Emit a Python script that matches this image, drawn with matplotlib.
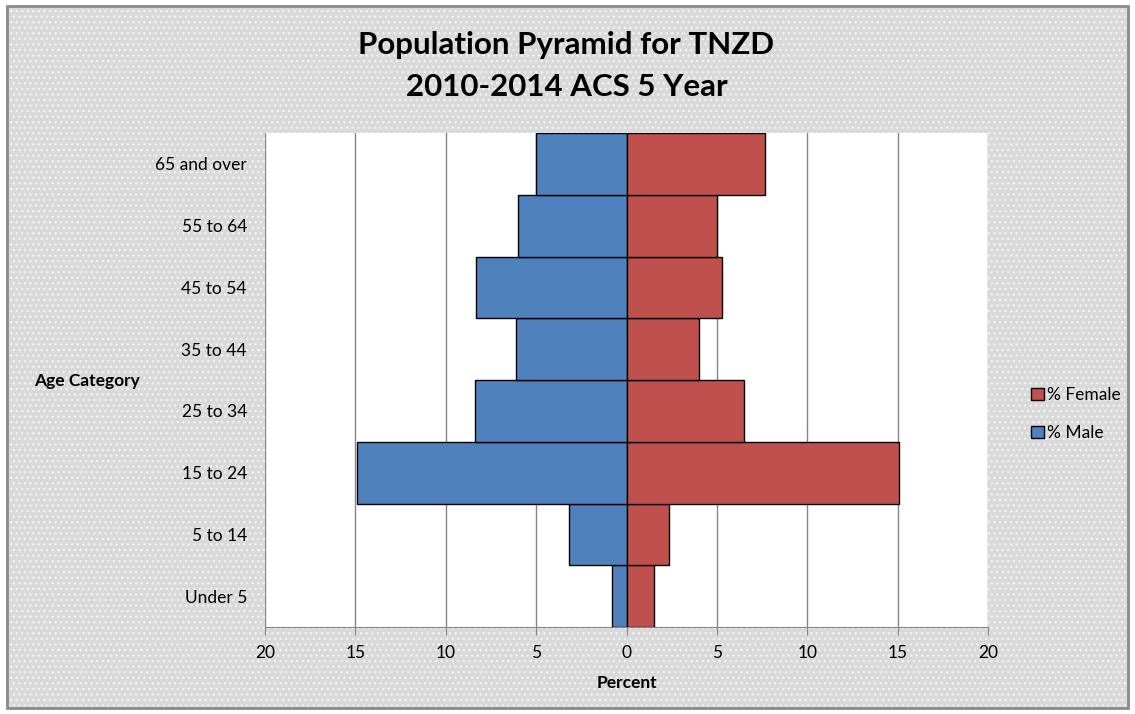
import numpy as np
import matplotlib.pyplot as plt
from matplotlib.patches import Rectangle

plt.rcParams['font.family'] = ['Lato', 'DejaVu Sans']

ages = ['Under 5', '5 to 14', '15 to 24', '25 to 34', '35 to 44', '45 to 54', '55 to 64', '65 and over']
male = [0.8, 3.2, 14.9, 8.4, 6.1, 8.3, 6.0, 5.0]
female = [1.5, 2.35, 15.1, 6.5, 4.0, 5.3, 5.0, 7.65]
xticks = [-20, -15, -10, -5, 0, 5, 10, 15, 20]

fig = plt.figure(figsize=(11.35, 7.14), dpi=100)
fig.patch.set_facecolor('white')

# dotted gray chart area with frame
bg = Rectangle((0.006, 0.008), 0.988, 0.984, transform=fig.transFigure,
               facecolor='#d9d9d9', edgecolor='#8a8a8a', linewidth=2, zorder=-10)
fig.patches.append(bg)
dots = Rectangle((0.008, 0.011), 0.985, 0.979, transform=fig.transFigure,
                 facecolor='none', edgecolor='#f2f2f2', hatch='...', linewidth=0, zorder=-9)
fig.patches.append(dots)

ax = fig.add_axes([0.2335, 0.1218, 0.637, 0.6919])
ax.set_facecolor('white')

y = np.arange(len(ages))
ax.barh(y, [-m for m in male], height=1.0, color='#4f81bd', edgecolor='black',
        linewidth=1, label='% Male', zorder=3)
ax.barh(y, female, height=1.0, color='#c0504d', edgecolor='black',
        linewidth=1, label='% Female', zorder=3)

ax.set_xlim(-20, 20)
ax.set_ylim(-0.5, len(ages) - 0.5)
ax.set_xticks(xticks)
ax.set_xticklabels([str(abs(t)) for t in xticks], fontsize=12.5)
ax.set_yticks(y)
ax.set_yticklabels(ages, fontsize=12.5)
ax.tick_params(axis='y', length=0, pad=13)
ax.tick_params(axis='x', length=6, color='#868686', direction='out', pad=7)
ax.xaxis.grid(True, color='#868686', linewidth=1, zorder=0)
ax.set_axisbelow(True)
for s in ['top', 'right', 'left']:
    ax.spines[s].set_visible(False)
ax.spines['bottom'].set_color('#868686')

ax.set_xlabel('Percent', fontsize=12.5, fontweight='bold', labelpad=10)
fig.text(0.03, 0.466, 'Age Category', fontsize=12.5, fontweight='bold', va='center', ha='left')

fig.text(0.499, 0.937, 'Population Pyramid for TNZD', fontsize=22.5, fontweight='bold', ha='center', va='center')
fig.text(0.499, 0.878, '2010-2014 ACS 5 Year', fontsize=22.5, fontweight='bold', ha='center', va='center')

handles, labels = ax.get_legend_handles_labels()
leg = fig.legend(handles[::-1], labels[::-1], loc='center left', bbox_to_anchor=(0.895, 0.42),
                 frameon=False, fontsize=12.5, handlelength=0.7, handleheight=0.7,
                 handletextpad=0.2, labelspacing=1.25)

fig.savefig('out.png', dpi=100, facecolor=fig.get_facecolor())
